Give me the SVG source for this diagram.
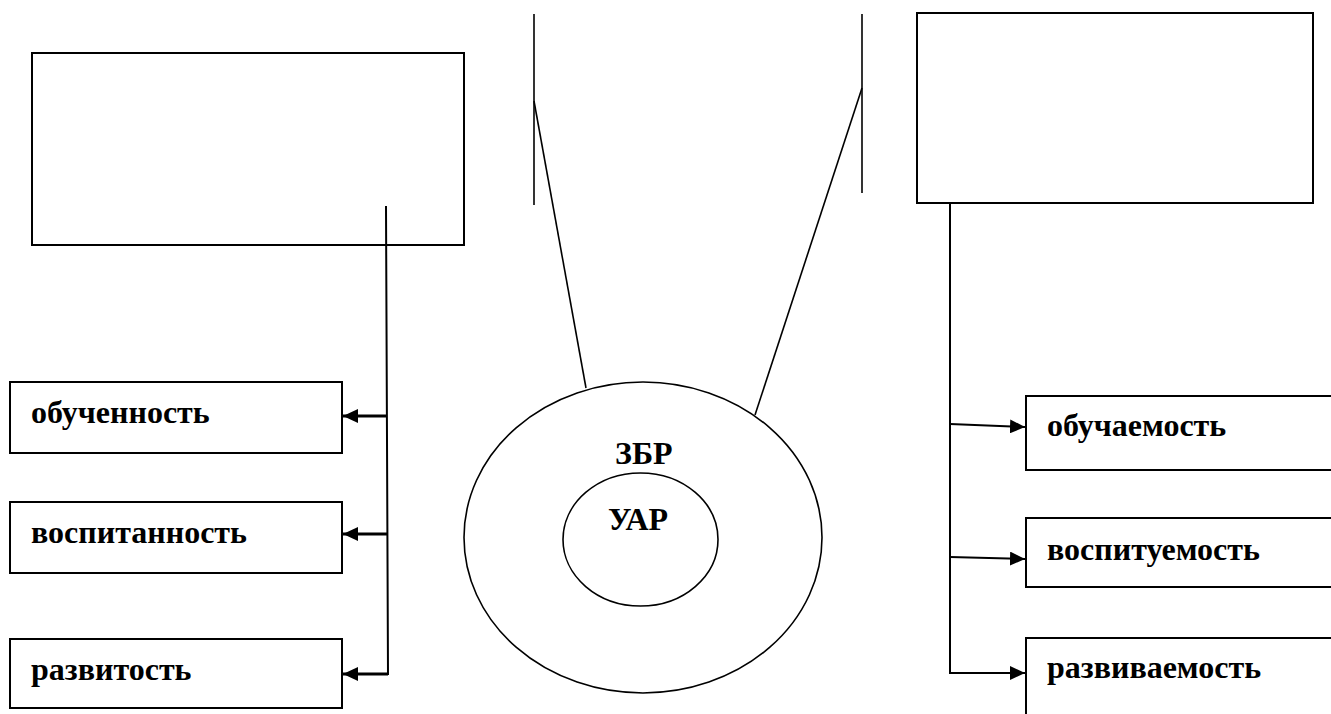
<svg xmlns="http://www.w3.org/2000/svg" width="1331" height="714" viewBox="0 0 1331 714">
<style>
.box{fill:#fff;stroke:#000;stroke-width:2}
.thin{fill:none;stroke:#000;stroke-width:1.6}
.conn{fill:none;stroke:#000;stroke-width:2}
.thick{fill:none;stroke:#000;stroke-width:3}
.lbl{font-family:"Liberation Serif","Times New Roman",serif;font-weight:bold;font-size:32px;fill:#000}
</style>
<defs>
<marker id="ah" markerUnits="userSpaceOnUse" markerWidth="16" markerHeight="14" refX="15" refY="7" orient="auto">
<path d="M0,0 L15,7 L0,14 Z" fill="#000"/>
</marker>
</defs>
<rect width="1331" height="714" fill="#fff"/>
<g id="top-left-box"><rect class="box" x="32" y="53" width="432" height="192"/></g>
<g id="top-right-box"><rect class="box" x="917" y="13" width="396" height="190"/></g>
<g id="zbr">
<ellipse class="thin" cx="643" cy="537.5" rx="179" ry="155.5"/>
<text class="lbl" x="615" y="464">ЗБР</text>
</g>
<g id="uar">
<ellipse class="thin" cx="640.5" cy="539.5" rx="77.5" ry="66.5"/>
<text class="lbl" x="608" y="530">УАР</text>
</g>
<g id="left1"><rect class="box" x="10" y="382" width="332" height="71"/><text class="lbl" x="31" y="423">обученность</text></g>
<g id="left2"><rect class="box" x="10" y="502" width="332" height="71"/><text class="lbl" x="31" y="543">воспитанность</text></g>
<g id="left3"><rect class="box" x="10" y="639" width="332" height="69"/><text class="lbl" x="31" y="680">развитость</text></g>
<g id="right1"><rect class="box" x="1026" y="396" width="320" height="74"/><text class="lbl" x="1047" y="436">обучаемость</text></g>
<g id="right2"><rect class="box" x="1026" y="518" width="320" height="69"/><text class="lbl" x="1047" y="560">воспитуемость</text></g>
<g id="right3"><rect class="box" x="1026" y="638" width="320" height="90"/><text class="lbl" x="1047" y="678">развиваемость</text></g>
<g id="connectors">
<line class="thin" x1="534" y1="14" x2="534" y2="205"/>
<line class="thin" x1="862" y1="14" x2="862" y2="193"/>
<line class="thin" x1="534" y1="101" x2="586" y2="388"/>
<line class="thin" x1="862" y1="88" x2="755" y2="415"/>
<polyline class="conn" points="386,206 388,674 343,674"/>
<line class="thick" x1="387" y1="416" x2="343" y2="416" marker-end="url(#ah)"/>
<line class="thick" x1="387" y1="534" x2="343" y2="534" marker-end="url(#ah)"/>
<line class="thick" x1="388" y1="674" x2="343" y2="674" marker-end="url(#ah)"/>
<line class="conn" x1="950" y1="203" x2="950" y2="673"/>
<line class="conn" x1="950" y1="424" x2="1025" y2="427" marker-end="url(#ah)"/>
<line class="conn" x1="950" y1="557" x2="1025" y2="559" marker-end="url(#ah)"/>
<line class="conn" x1="949" y1="673" x2="1025" y2="673" marker-end="url(#ah)"/>
</g>
</svg>
